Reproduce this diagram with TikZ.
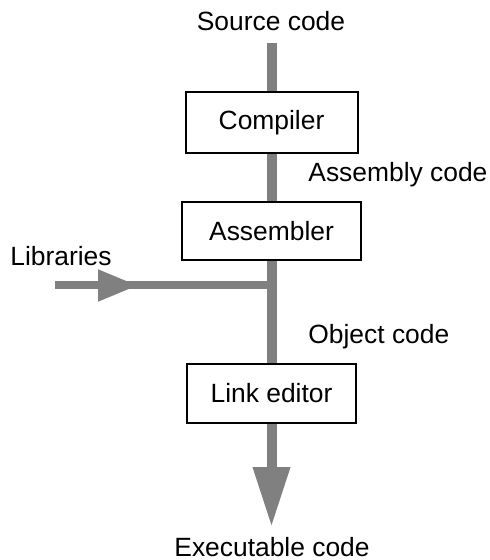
\documentclass[tikz,border=0pt]{standalone}
\usepackage{fontspec}
\setmainfont{Liberation Sans}
\usetikzlibrary{arrows.meta, positioning, backgrounds}
\definecolor{FlowGray}{RGB}{128,128,128}

\begin{document}
\begin{tikzpicture}[x=0.5pt, y=-0.5pt, font=\fontsize{13.2}{16}\selectfont,
    stage/.style={draw, line width=1pt, fill=white, inner sep=0pt},
    flow/.style={draw=FlowGray, line width=5pt},
    lbl/.style={inner sep=0pt}]
    \useasboundingbox (0,0) rectangle (490,560);
    % Stages
    \node[stage, minimum width=86pt, minimum height=30.5pt] (comp) at (271.5,122.5) {Compiler};
    \node[stage, minimum width=89.5pt, minimum height=29pt] (asm) at (271.5,231) {Assembler};
    \node[stage, minimum width=84.5pt, minimum height=29.5pt] (link) at (271.5,393.5) {Link editor};
    % Texts on the flow
    \node[lbl] (src) at (271,21) {Source code};
    \node[lbl, anchor=west] (asmcode) at (308,175) {Assembly code};
    \node[lbl, anchor=west] (libs) at (10,256) {Libraries};
    \node[lbl, anchor=west] (objcode) at (308,337) {Object code};
    \node[lbl] (exe) at (272,547) {Executable code};
    % Free ends of the flow
    \coordinate (in) at (271.5,43);
    \coordinate (libin) at (55,285.5);
    \coordinate (libtip) at (138,285.5);
    \coordinate (jct) at (271.5,285.5);
    \coordinate (out) at (271.5,527);
    % Flow lines
    \begin{scope}[on background layer]
        \draw[flow] (in) -- (comp);
        \draw[flow] (comp) -- (asm);
        \draw[flow] (asm) -- (link);
        \draw[flow, line width=4pt] (libin) -- (jct);
        \draw[flow, line width=4pt, -{Triangle[length=20pt, width=15pt]}] (libin) -- (libtip);
        \draw[flow, -{Triangle[length=30pt, width=17.5pt]}] (link) -- (out);
    \end{scope}
\end{tikzpicture}
\end{document}
